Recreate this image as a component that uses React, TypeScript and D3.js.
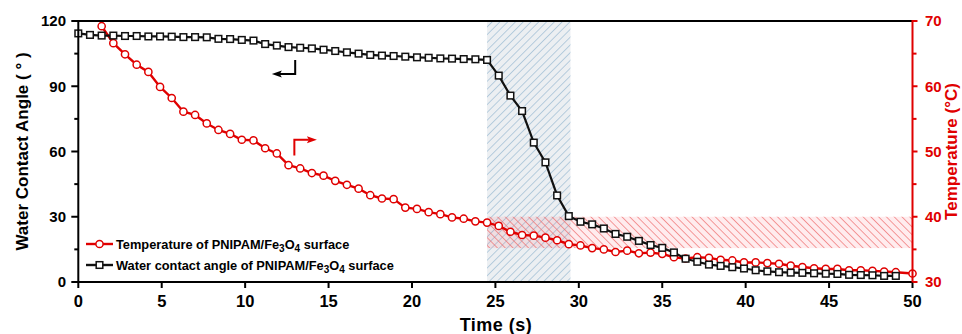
import React from "react";
import * as d3 from "d3";

// water contact angle (left axis), sampled every 0.7 s
const angleTime = [
  0, 0.7, 1.4, 2.1, 2.8, 3.5, 4.2, 4.9, 5.6, 6.3, 7.0, 7.7, 8.4, 9.1, 9.8,
  10.5, 11.2, 11.9, 12.6, 13.3, 14.0, 14.7, 15.4, 16.1, 16.8, 17.5, 18.2,
  18.9, 19.6, 20.3, 21.0, 21.7, 22.4, 23.1, 23.8, 24.5, 25.2, 25.9, 26.6,
  27.3, 28.0, 28.7, 29.4, 30.1, 30.8, 31.5, 32.2, 32.9, 33.6, 34.3, 35.0,
  35.7, 36.4, 37.1, 37.8, 38.5, 39.2, 39.9, 40.6, 41.3, 42.0, 42.7, 43.4,
  44.1, 44.8, 45.5, 46.2, 46.9, 47.6, 48.3, 49.0,
];
const contactAngle = [
  114.3, 113.6, 113.3, 113.3, 113.1, 113.1, 112.9, 112.9, 112.8, 112.6,
  112.6, 112.5, 111.8, 111.7, 111.3, 111.0, 109.4, 108.7, 108.0, 107.7,
  107.4, 106.8, 106.2, 105.6, 105.0, 104.4, 104.1, 103.9, 103.6, 103.3,
  103.1, 102.8, 102.7, 102.5, 102.4, 102.1, 94.9, 85.7, 78.6, 64.1, 55.0,
  39.8, 30.3, 27.7, 26.5, 24.6, 22.1, 20.8, 18.9, 17.0, 15.7, 13.6, 10.7,
  9.3, 8.0, 7.4, 6.8, 6.2, 5.4, 4.9, 4.5, 4.3, 4.2, 4.0, 3.8, 3.7, 3.3, 3.2,
  3.1, 2.8, 2.8,
];

// surface temperature (right axis)
const tempTime = [
  1.4, 2.1, 2.8, 3.5, 4.2, 4.9, 5.6, 6.3, 7.0, 7.7, 8.4, 9.1, 9.8, 10.5,
  11.2, 11.9, 12.6, 13.3, 14.0, 14.7, 15.4, 16.1, 16.8, 17.5, 18.2, 18.9,
  19.6, 20.3, 21.0, 21.7, 22.4, 23.1, 23.8, 24.5, 25.2, 25.9, 26.6, 27.3,
  28.0, 28.7, 29.4, 30.1, 30.8, 31.5, 32.2, 32.9, 33.6, 34.3, 35.0, 35.7,
  36.4, 37.1, 37.8, 38.5, 39.2, 39.9, 40.6, 41.3, 42.0, 42.7, 43.4, 44.1,
  44.8, 45.5, 46.2, 46.9, 47.6, 48.3, 49.0, 50.0,
];
const temperature = [
  69.2, 66.6, 64.9, 63.3, 62.2, 59.9, 58.2, 56.1, 55.6, 54.3, 53.3, 52.7,
  51.8, 51.7, 50.5, 49.7, 47.9, 47.4, 46.7, 46.3, 45.5, 44.9, 44.3, 43.3,
  42.8, 42.7, 41.4, 41.2, 40.7, 40.4, 39.9, 39.7, 39.3, 39.1, 38.6, 37.7,
  37.2, 37.1, 36.8, 36.4, 35.8, 35.6, 35.2, 35.0, 34.6, 34.8, 34.4, 34.5,
  34.3, 33.8, 33.6, 33.8, 33.7, 33.4, 33.3, 33.0, 33.0, 32.9, 32.8, 32.5,
  32.3, 32.1, 32.0, 32.0, 31.8, 31.8, 31.7, 31.6, 31.5, 31.3,
];

const xTicks = [0, 5, 10, 15, 20, 25, 30, 35, 40, 45, 50];
const angleTicks = [0, 30, 60, 90, 120];
const angleMinor = [15, 45, 75, 105];
const tempTicks = [30, 40, 50, 60, 70];
const tempMinor = [35, 45, 55, 65];

const switchWindow = [24.5, 29.5]; // time (s)
const lcstRange = [35.2, 40]; // temperature (°C)

const legendItems = ["Temperature of PNIPAM/Fe", "Water contact angle of PNIPAM/Fe"];

const RED = "#e00000";
const FONT = "'Liberation Sans', Arial, sans-serif";

const left = 78.3;
const right = 912.5;
const top = 21;
const bottom = 282;

export default function App() {
  const x = d3.scaleLinear().domain([0, 50]).range([left, right]);
  const yA = d3.scaleLinear().domain([0, 120]).range([bottom, top]);
  const yT = d3.scaleLinear().domain([30, 70]).range([bottom, top]);

  const angleLine = d3
    .line<number>()
    .x((_, i) => x(angleTime[i]))
    .y((d) => yA(d));
  const tempLine = d3
    .line<number>()
    .x((_, i) => x(tempTime[i]))
    .y((d) => yT(d));

  // annotation arrows (in data units)
  const bx = x(13.0);
  const by0 = yA(102.1);
  const by1 = yA(95.6);
  const bTip = x(11.6);
  const rx = x(12.95);
  const ry0 = yT(49.4);
  const ry1 = yT(51.8);
  const rTip = x(14.3);

  const legendY = [244, 265];

  return (
    <div style={{ position: "fixed", left: 0, top: 0 }}>
      <svg width={962} height={334} style={{ display: "block", background: "#fff" }}>
        <defs>
          <pattern id="blueHatch" patternUnits="userSpaceOnUse" width={5.5} height={5.5} patternTransform="rotate(45)">
            <rect width={5.5} height={5.5} fill="#eceff2" />
            <line x1={0} y1={0} x2={0} y2={5.5} stroke="#9fbdd4" strokeWidth={1.4} />
          </pattern>
          <pattern id="redHatch" patternUnits="userSpaceOnUse" width={5.5} height={5.5} patternTransform="rotate(-45)">
            <line x1={0} y1={0} x2={0} y2={5.5} stroke="#ee6a6a" strokeWidth={1.3} />
          </pattern>
        </defs>

        {/* shaded regions */}
        <rect
          x={x(switchWindow[0])}
          y={top}
          width={x(switchWindow[1]) - x(switchWindow[0])}
          height={bottom - top}
          fill="url(#blueHatch)"
        />
        <rect
          x={x(switchWindow[0])}
          y={yT(lcstRange[1])}
          width={right - x(switchWindow[0])}
          height={yT(lcstRange[0]) - yT(lcstRange[1])}
          fill="#ff6070"
          fillOpacity={0.12}
        />
        <rect
          x={x(switchWindow[0])}
          y={yT(lcstRange[1])}
          width={right - x(switchWindow[0])}
          height={yT(lcstRange[0]) - yT(lcstRange[1])}
          fill="url(#redHatch)"
        />

        {/* series */}
        <path d={tempLine(temperature) || ""} fill="none" stroke={RED} strokeWidth={2.4} />
        {temperature.map((d, i) => (
          <circle key={"t" + i} cx={x(tempTime[i])} cy={yT(d)} r={3.6} fill="#fff" stroke={RED} strokeWidth={1.5} />
        ))}
        <path d={angleLine(contactAngle) || ""} fill="none" stroke="#111" strokeWidth={2.2} />
        {contactAngle.map((d, i) => (
          <rect
            key={"a" + i}
            x={x(angleTime[i]) - 3.3}
            y={yA(d) - 3.3}
            width={6.6}
            height={6.6}
            fill="#fff"
            stroke="#111"
            strokeWidth={1.5}
          />
        ))}

        {/* arrows */}
        <path d={`M${bx},${by0}V${by1}H${bTip + 8}`} fill="none" stroke="#000" strokeWidth={2} />
        <path d={`M${bTip},${by1}L${bTip + 10},${by1 - 3.5}L${bTip + 8},${by1}L${bTip + 10},${by1 + 3.5}Z`} fill="#000" />
        <path d={`M${rx},${ry0}V${ry1}H${rTip - 8}`} fill="none" stroke={RED} strokeWidth={2} />
        <path d={`M${rTip},${ry1}L${rTip - 10},${ry1 - 3.5}L${rTip - 8},${ry1}L${rTip - 10},${ry1 + 3.5}Z`} fill={RED} />

        {/* frame */}
        <line x1={left} x2={right} y1={top} y2={top} stroke="#000" strokeWidth={2} />
        <line x1={left} x2={right} y1={bottom} y2={bottom} stroke="#000" strokeWidth={2} />
        <line x1={left} x2={left} y1={top - 1} y2={bottom + 1} stroke="#000" strokeWidth={2} />
        <line x1={right} x2={right} y1={top - 1} y2={bottom + 1} stroke={RED} strokeWidth={2} />

        {/* bottom axis */}
        {xTicks.map((t) => (
          <g key={"x" + t}>
            <line x1={x(t)} x2={x(t)} y1={bottom} y2={bottom + 6} stroke="#000" strokeWidth={2} />
            <text x={x(t)} y={307} textAnchor="middle" fontFamily={FONT} fontWeight="bold" fontSize={16.5}>
              {t}
            </text>
          </g>
        ))}
        <text x={496} y={331} textAnchor="middle" fontFamily={FONT} fontWeight="bold" fontSize={18} letterSpacing={0.5}>
          Time (s)
        </text>

        {/* left axis */}
        {angleTicks.map((t) => (
          <g key={"a" + t}>
            <line x1={left - 7} x2={left} y1={yA(t)} y2={yA(t)} stroke="#000" strokeWidth={2} />
            <text x={66} y={yA(t)} dy="0.36em" textAnchor="end" fontFamily={FONT} fontWeight="bold" fontSize={15}>
              {t}
            </text>
          </g>
        ))}
        {angleMinor.map((t) => (
          <line key={"am" + t} x1={left - 4} x2={left} y1={yA(t)} y2={yA(t)} stroke="#000" strokeWidth={2} />
        ))}
        <text
          transform={`translate(28,${(top + bottom) / 2}) rotate(-90)`}
          textAnchor="middle"
          fontFamily={FONT}
          fontWeight="bold"
          fontSize={17}
        >
          Water Contact Angle ( ° )
        </text>

        {/* right axis */}
        {tempTicks.map((t) => (
          <g key={"r" + t}>
            <line x1={right} x2={right + 5} y1={yT(t)} y2={yT(t)} stroke={RED} strokeWidth={2} />
            <text x={925} y={yT(t)} dy="0.36em" fill={RED} fontFamily={FONT} fontWeight="bold" fontSize={15}>
              {t}
            </text>
          </g>
        ))}
        {tempMinor.map((t) => (
          <line key={"rm" + t} x1={right} x2={right + 4} y1={yT(t)} y2={yT(t)} stroke={RED} strokeWidth={2} />
        ))}
        <text
          transform={`translate(957,${(top + bottom) / 2}) rotate(-90)`}
          textAnchor="middle"
          fill={RED}
          fontFamily={FONT}
          fontWeight="bold"
          fontSize={17}
        >
          Temperature (°C)
        </text>

        {/* legend */}
        {legendItems.map((label, i) => (
          <g key={"l" + i}>
            <line x1={86} x2={113} y1={legendY[i]} y2={legendY[i]} stroke={i === 0 ? RED : "#111"} strokeWidth={2.4} />
            {i === 0 ? (
              <circle cx={99.5} cy={legendY[i]} r={3.6} fill="#fff" stroke={RED} strokeWidth={1.5} />
            ) : (
              <rect x={96.2} y={legendY[i] - 3.3} width={6.6} height={6.6} fill="#fff" stroke="#111" strokeWidth={1.5} />
            )}
            <text x={116} y={legendY[i] + 4.5} fontFamily={FONT} fontWeight="bold" fontSize={12.8}>
              {label}
              <tspan dy={3.5} fontSize={10}>3</tspan>
              <tspan dy={-3.5}>O</tspan>
              <tspan dy={3.5} fontSize={10}>4</tspan>
              <tspan dy={-3.5}> surface</tspan>
            </text>
          </g>
        ))}
      </svg>
    </div>
  );
}
